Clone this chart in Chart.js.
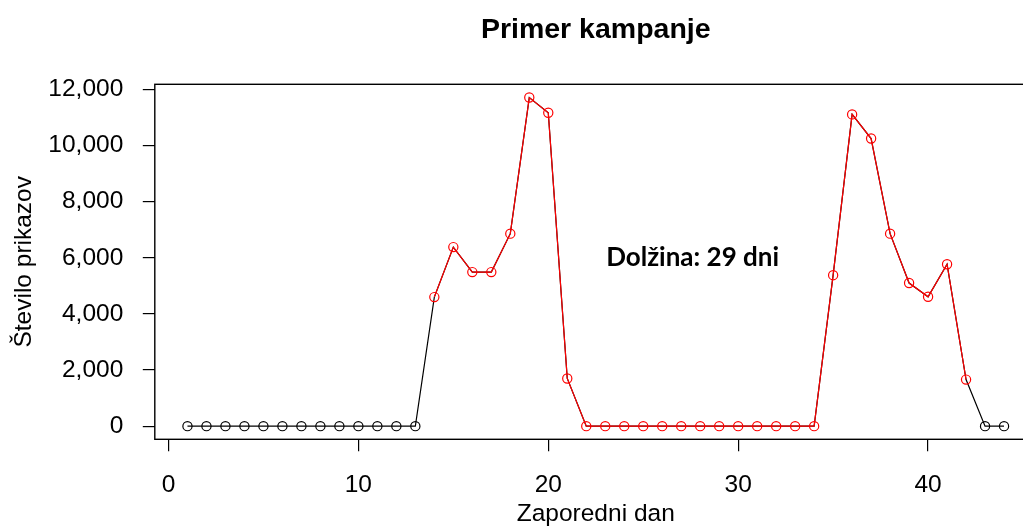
<!DOCTYPE html>
<html>
<head>
<meta charset="utf-8">
<script src="https://cdn.jsdelivr.net/npm/chart.js@4"></script>
<style>
    html, body { margin: 0; padding: 0; background: #fff; overflow: hidden; }
    #wrap { width: 1060px; height: 528px; }
</style>
</head>
<body>
<div id="wrap"><canvas id="myChart" width="1060" height="528"></canvas></div>
<script>
const days = [1, 2, 3, 4, 5, 6, 7, 8, 9, 10, 11, 12, 13, 14, 15, 16, 17, 18, 19, 20, 21, 22,
    23, 24, 25, 26, 27, 28, 29, 30, 31, 32, 33, 34, 35, 36, 37, 38, 39, 40, 41, 42, 43, 44];
const views = [0, 0, 0, 0, 0, 0, 0, 0, 0, 0, 0, 0, 0, 4600, 6380, 5490, 5490, 6860, 11710, 11170, 1700, 0,
    0, 0, 0, 0, 0, 0, 0, 0, 0, 0, 0, 0, 5380, 11110, 10250, 6860, 5100, 4610, 5770, 1660, 0, 0];
const campaignStart = 14;
const campaignEnd = 42;
const xTicks = [0, 10, 20, 30, 40];
const yTicks = [0, 2000, 4000, 6000, 8000, 10000, 12000];
const chartTitle = 'Primer kampanje';
const xTitle = 'Zaporedni dan';
const yTitle = 'Število prikazov';
const note = 'Dolžina: 29 dni';
const noteAt = [27.6, 6000];

const axisFont = '"Liberation Sans", Arial, sans-serif';

const allPoints = days.map((d, i) => ({x: d, y: views[i]}));
const campaignPoints = allPoints.filter(p => p.x >= campaignStart && p.x <= campaignEnd);

// box round the plot, main title and the note
const boxAndText = {
    id: 'boxAndText',
    afterDraw(chart) {
        const {ctx, chartArea, scales} = chart;
        ctx.save();
        ctx.strokeStyle = '#000';
        ctx.lineWidth = 1.4;
        ctx.strokeRect(chartArea.left, chartArea.top, chartArea.right - chartArea.left, chartArea.bottom - chartArea.top);

        ctx.fillStyle = '#000';
        ctx.textAlign = 'center';
        ctx.font = 'bold 28.5px ' + axisFont;
        ctx.textBaseline = 'alphabetic';
        ctx.fillText(chartTitle, (chartArea.left + chartArea.right) / 2, 37.5);

        ctx.font = 'bold 26px Lato, sans-serif';
        ctx.textBaseline = 'middle';
        ctx.fillText(note, scales.x.getPixelForValue(noteAt[0]), scales.y.getPixelForValue(noteAt[1]));
        ctx.restore();
    }
};

const data = {
    datasets: [{
        label: 'kampanja',
        data: campaignPoints,
        borderColor: 'rgb(255, 0, 0)',
        borderWidth: 1.2,
        pointStyle: 'circle',
        pointRadius: 4.6,
        pointBorderWidth: 1.2,
        pointBorderColor: 'rgb(255, 0, 0)',
        pointBackgroundColor: 'rgba(0, 0, 0, 0)',
        tension: 0
    }, {
        label: 'prikazi',
        data: allPoints,
        borderColor: '#000',
        borderWidth: 1.2,
        pointRadius: ctx => {
            const d = ctx.raw ? ctx.raw.x : 0;
            return (d >= campaignStart && d <= campaignEnd) ? 0 : 4.6;
        },
        pointBorderWidth: 1.2,
        pointBorderColor: '#000',
        pointBackgroundColor: 'rgba(0, 0, 0, 0)',
        tension: 0
    }]
};

const config = {
    type: 'line',
    data: data,
    options: {
        responsive: false,
        animation: false,
        devicePixelRatio: 1,
        layout: {padding: {top: 84.3, right: 23.3, left: 0, bottom: 0}},
        plugins: {
            legend: {display: false},
            tooltip: {enabled: false}
        },
        scales: {
            x: {
                type: 'linear',
                min: -0.72,
                max: 45.72,
                afterBuildTicks: s => { s.ticks = xTicks.map(v => ({value: v})); },
                afterFit: s => { s.height = 88.7; },
                border: {display: false},
                grid: {display: true, drawOnChartArea: false, drawTicks: true, tickLength: 12, color: '#000', lineWidth: 1.2},
                ticks: {color: '#000', padding: 19, maxRotation: 0, font: {family: axisFont, size: 24.5}},
                title: {display: true, text: xTitle, color: '#000', padding: {top: 0, bottom: 1.5},
                    font: {family: axisFont, size: 24.5, lineHeight: 1}}
            },
            y: {
                type: 'linear',
                min: -468,
                max: 12182,
                afterBuildTicks: s => { s.ticks = yTicks.map(v => ({value: v})); },
                afterFit: s => { s.width = 154.8; },
                border: {display: false},
                grid: {display: true, drawOnChartArea: false, drawTicks: true, tickLength: 12, color: '#000', lineWidth: 1.2},
                ticks: {
                    color: '#000',
                    padding: 19.5,
                    font: {family: axisFont, size: 24.5},
                    callback: v => v.toLocaleString('en-US')
                },
                title: {display: true, text: yTitle, color: '#000', padding: {top: 12, bottom: 0},
                    font: {family: axisFont, size: 24.5, lineHeight: 1}}
            }
        }
    },
    plugins: [boxAndText]
};

const myChart = new Chart(document.getElementById('myChart'), config);
</script>
</body>
</html>
